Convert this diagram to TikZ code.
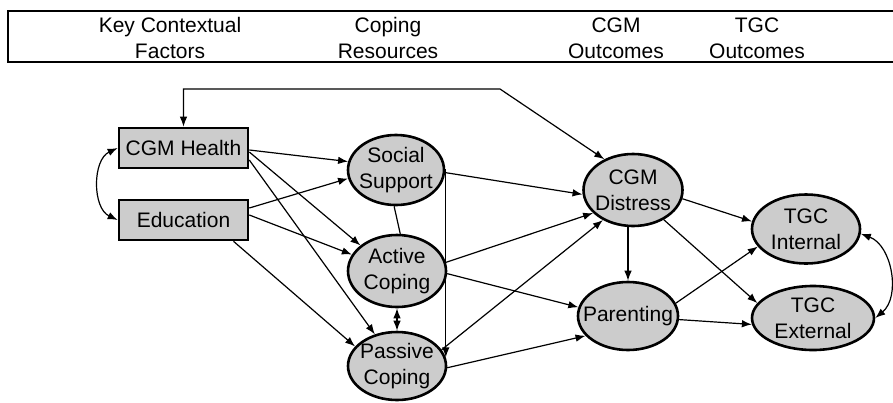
\documentclass[tikz,border=0pt]{standalone}
\usepackage{fontspec}
\setmainfont{Liberation Sans}
\usetikzlibrary{shapes.geometric,arrows.meta}
\definecolor{nodefill}{RGB}{204,204,204}
\begin{document}
\begin{tikzpicture}[x=1pt,y=-1pt,
  every node/.style={font=\fontsize{21}{26}\selectfont, align=center},
  boxnode/.style={draw, line width=2.6pt, fill=nodefill, minimum width=129pt, minimum height=40pt, inner sep=0pt},
  ellnode/.style={ellipse, draw, line width=2.6pt, fill=nodefill, inner sep=0pt},
  conn/.style={line width=1.2pt, -{Latex[length=10pt,width=7.5pt]}},
  dconn/.style={line width=1.2pt, {Latex[length=10pt,width=7.5pt]}-{Latex[length=10pt,width=7.5pt]}},
  plain/.style={line width=1.2pt}
]
\useasboundingbox (0,0) rectangle (893,402);
% header
\draw[line width=2.4pt] (8,11) rectangle (897,62);
\node (h1) at (170,38) {Key Contextual\\Factors};
\node (h2) at (388,38) {Coping\\Resources};
\node (h3) at (616,38) {CGM\\Outcomes};
\node (h4) at (757,38) {TGC\\Outcomes};
% nodes
\node[boxnode] (ch) at (183.5,148) {CGM Health};
\node[boxnode] (ed) at (183.5,220) {Education};
\node[ellnode, minimum width=96pt, minimum height=70pt, label={center:Social\\Support}] (ss) at (396,170) {};
\node[ellnode, minimum width=98pt, minimum height=72pt, label={center:Active\\Coping}] (ac) at (397,271) {};
\node[ellnode, minimum width=98pt, minimum height=68pt, label={center:Passive\\Coping}] (pc) at (397,366) {};
\node[ellnode, minimum width=99pt, minimum height=72pt, label={center:CGM\\Distress}] (dis) at (633,190) {};
\node[ellnode, minimum width=108pt, minimum height=69pt, label={center:TGC\\Internal}] (tin) at (806,229) {};
\node[ellnode, minimum width=100pt, minimum height=68pt, label={center:Parenting}] (par) at (628,316) {};
\node[ellnode, minimum width=122pt, minimum height=64pt, label={center:TGC\\External}] (tex) at (813,318) {};
% connectors
\coordinate (tc) at (500,89);
\draw[dconn] (ch.north) |- (tc) -- (dis.133);
\draw[dconn] (ch.west) to[bend right=65] (ed.west);
\draw[dconn] (tin.-5) to[bend left=60] (tex.east);
\draw[conn] ([yshift=-2pt]ch.east) -- (ss.170);
\draw[conn] ([yshift=-4pt]ch.east) -- (ac.145);
\draw[conn] ([yshift=-12pt]ch.east) -- (pc.125);
\draw[conn] ([yshift=12pt]ed.east) -- (ss.190);
\draw[conn] ([yshift=5pt]ed.east) -- (ac.160);
\draw[conn] ([xshift=50pt]ed.south) -- (pc.155);
\draw[conn] (ss.east) -| (pc.10);
\draw[plain] (ss.-93) -- (ac.85);
\draw[dconn] (ac.south) -- (pc.north);
\draw[conn] (ss.-3) -- (dis.185);
\draw[conn] (ac.10) -- (dis.210);
\draw[conn] (ac.-3) -- (par.170);
\draw[conn] (pc.20) -- (dis.225);
\draw[conn] (pc.-2) -- (par.205);
\draw[conn] (dis.south -| par.north) -- (par.north);
\draw[conn] (dis.-10) -- (tin.172);
\draw[conn] (dis.-44) -- (tex.165);
\draw[conn] (par.15) -- (tin.200);
\draw[conn] (par.-4) -- (tex.186);
\end{tikzpicture}
\end{document}
